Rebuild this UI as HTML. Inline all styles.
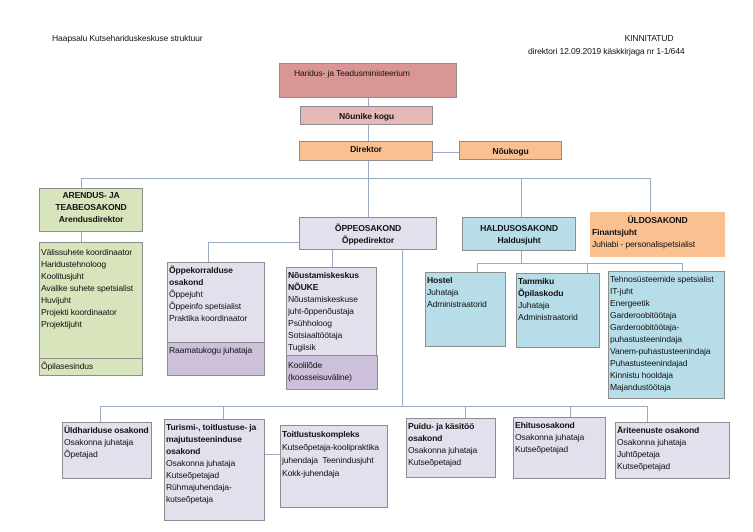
<!DOCTYPE html>
<html><head><meta charset="utf-8"><style>
body{margin:0;width:753px;height:532px;background:#fff;position:relative;overflow:hidden;font-family:"Liberation Sans Narrow","Liberation Sans",sans-serif;font-size:8.6px;letter-spacing:-0.15px;line-height:12px;color:#111}
.b{position:absolute;box-sizing:border-box;border:1px solid #8d8d8d;padding:1px 1px;overflow:hidden;white-space:nowrap}
.c{text-align:center}
.l{position:absolute;background:#9aaac2}
.h{height:1px}.v{width:1px}
.t{position:absolute;white-space:nowrap}
.lav{background:#e4dfec}.pur{background:#ccc0da}.blu{background:#b7dee8}.grn{background:#d8e4bc}.org{background:#fac090}
b{font-weight:bold}
</style></head><body>
<div class="t" style="left:52px;top:32px">Haapsalu Kutsehariduskeskuse struktuur</div>
<div class="t" style="left:590px;top:32px;width:118px;text-align:center">KINNITATUD</div>
<div class="t" style="left:528px;top:45px">direktori 12.09.2019 käskkirjaga nr 1-1/644</div>

<div class="l v" style="left:368px;top:98px;height:80px"></div>
<div class="l h" style="left:433px;top:152px;width:26px"></div>
<div class="l h" style="left:81px;top:178px;width:570px"></div>
<div class="l v" style="left:81px;top:178px;height:10px"></div>
<div class="l v" style="left:368px;top:178px;height:39px"></div>
<div class="l v" style="left:521px;top:178px;height:39px"></div>
<div class="l v" style="left:650px;top:178px;height:34px"></div>
<div class="l v" style="left:81px;top:232px;height:10px"></div>
<div class="l h" style="left:208px;top:242px;width:91px"></div>
<div class="l v" style="left:208px;top:242px;height:20px"></div>
<div class="l v" style="left:332px;top:250px;height:17px"></div>
<div class="l v" style="left:402px;top:250px;height:156px"></div>
<div class="l v" style="left:521px;top:251px;height:12px"></div>
<div class="l h" style="left:477px;top:263px;width:206px"></div>
<div class="l v" style="left:477px;top:263px;height:9px"></div>
<div class="l v" style="left:587px;top:263px;height:10px"></div>
<div class="l v" style="left:682px;top:263px;height:8px"></div>
<div class="l h" style="left:100px;top:406px;width:548px"></div>
<div class="l v" style="left:100px;top:406px;height:16px"></div>
<div class="l v" style="left:223px;top:406px;height:13px"></div>
<div class="l v" style="left:465px;top:406px;height:12px"></div>
<div class="l v" style="left:570px;top:406px;height:11px"></div>
<div class="l v" style="left:647px;top:406px;height:16px"></div>
<div class="l h" style="left:265px;top:454px;width:15px"></div>

<div class="b" style="left:279px;top:63px;width:178px;height:35px;background:#da9694;padding-left:14px;padding-top:3px">Haridus- ja Teadusministeerium</div>
<div class="b c" style="left:300px;top:106px;width:133px;height:19px;background:#e6b8b7;padding-top:3px"><b>Nõunike kogu</b></div>
<div class="b c org" style="left:299px;top:141px;width:134px;height:20px;padding-top:1px"><b>Direktor</b></div>
<div class="b c org" style="left:459px;top:141px;width:103px;height:19px;padding-top:3px"><b>Nõukogu</b></div>

<div class="b c grn" style="left:39px;top:188px;width:104px;height:44px;padding-top:0"><b>ARENDUS- JA<br>TEABEOSAKOND<br>Arendusdirektor</b></div>
<div class="b grn" style="left:39px;top:242px;width:104px;height:117px;padding-top:3px">Välissuhete koordinaator<br>Haridustehnoloog<br>Koolitusjuht<br>Avalike suhete spetsialist<br>Huvijuht<br>Projekti koordinaator<br>Projektijuht</div>
<div class="b grn" style="left:39px;top:358px;width:104px;height:18px">Õpilasesindus</div>

<div class="b c lav" style="left:299px;top:217px;width:138px;height:33px;padding-top:4px"><b>ÕPPEOSAKOND<br>Õppedirektor</b></div>
<div class="b c blu" style="left:462px;top:217px;width:114px;height:34px;padding-top:4px"><b>HALDUSOSAKOND<br>Haldusjuht</b></div>
<div class="b org" style="left:590px;top:212px;width:135px;height:45px;border-color:#fac090"><div style="text-align:center"><b>ÜLDOSAKOND</b></div><b>Finantsjuht</b><br>Juhiabi - personalispetsialist</div>

<div class="b lav" style="left:167px;top:262px;width:98px;height:81px"><b>Õppekorralduse<br>osakond</b><br>Õppejuht<br>Õppeinfo spetsialist<br>Praktika koordinaator</div>
<div class="b pur" style="left:167px;top:342px;width:98px;height:34px">Raamatukogu juhataja</div>
<div class="b lav" style="left:286px;top:267px;width:91px;height:89px"><b>Nõustamiskeskus<br>NÕUKE</b><br>Nõustamiskeskuse<br>juht-õppenõustaja<br>Psühholoog<br>Sotsiaaltöötaja<br>Tugiisik</div>
<div class="b pur" style="left:286px;top:355px;width:92px;height:35px;padding-top:3px">Koolilõde<br>(koosseisuväline)</div>

<div class="b blu" style="left:425px;top:272px;width:81px;height:75px"><b>Hostel</b><br>Juhataja<br>Administraatorid</div>
<div class="b blu" style="left:516px;top:273px;width:84px;height:75px"><b>Tammiku<br>Õpilaskodu</b><br>Juhataja<br>Administraatorid</div>
<div class="b blu" style="left:608px;top:271px;width:117px;height:128px">Tehnosüsteemide spetsialist<br>IT-juht<br>Energeetik<br>Garderoobitöötaja<br>Garderoobitöötaja-<br>puhastusteenindaja<br>Vanem-puhastusteenindaja<br>Puhastusteenindajad<br>Kinnistu hooldaja<br>Majandustöötaja</div>

<div class="b lav" style="left:62px;top:422px;width:90px;height:57px"><b>Üldhariduse osakond</b><br>Osakonna juhataja<br>Õpetajad</div>
<div class="b lav" style="left:164px;top:419px;width:101px;height:102px"><b>Turismi-, toitlustuse- ja<br>majutusteeninduse<br>osakond</b><br>Osakonna juhataja<br>Kutseõpetajad<br>Rühmajuhendaja-<br>kutseõpetaja</div>
<div class="b lav" style="left:280px;top:425px;width:108px;height:83px;padding-top:2px;line-height:13px"><b>Toitlustuskompleks</b><br>Kutseõpetaja-koolipraktika<br>juhendaja &nbsp;Teenindusjuht<br>Kokk-juhendaja</div>
<div class="b lav" style="left:406px;top:418px;width:90px;height:60px"><b>Puidu- ja käsitöö<br>osakond</b><br>Osakonna juhataja<br>Kutseõpetajad</div>
<div class="b lav" style="left:513px;top:417px;width:93px;height:62px"><b>Ehitusosakond</b><br>Osakonna juhataja<br>Kutseõpetajad</div>
<div class="b lav" style="left:615px;top:422px;width:115px;height:57px"><b>Äriteenuste osakond</b><br>Osakonna juhataja<br>Juhtõpetaja<br>Kutseõpetajad</div>
</body></html>
